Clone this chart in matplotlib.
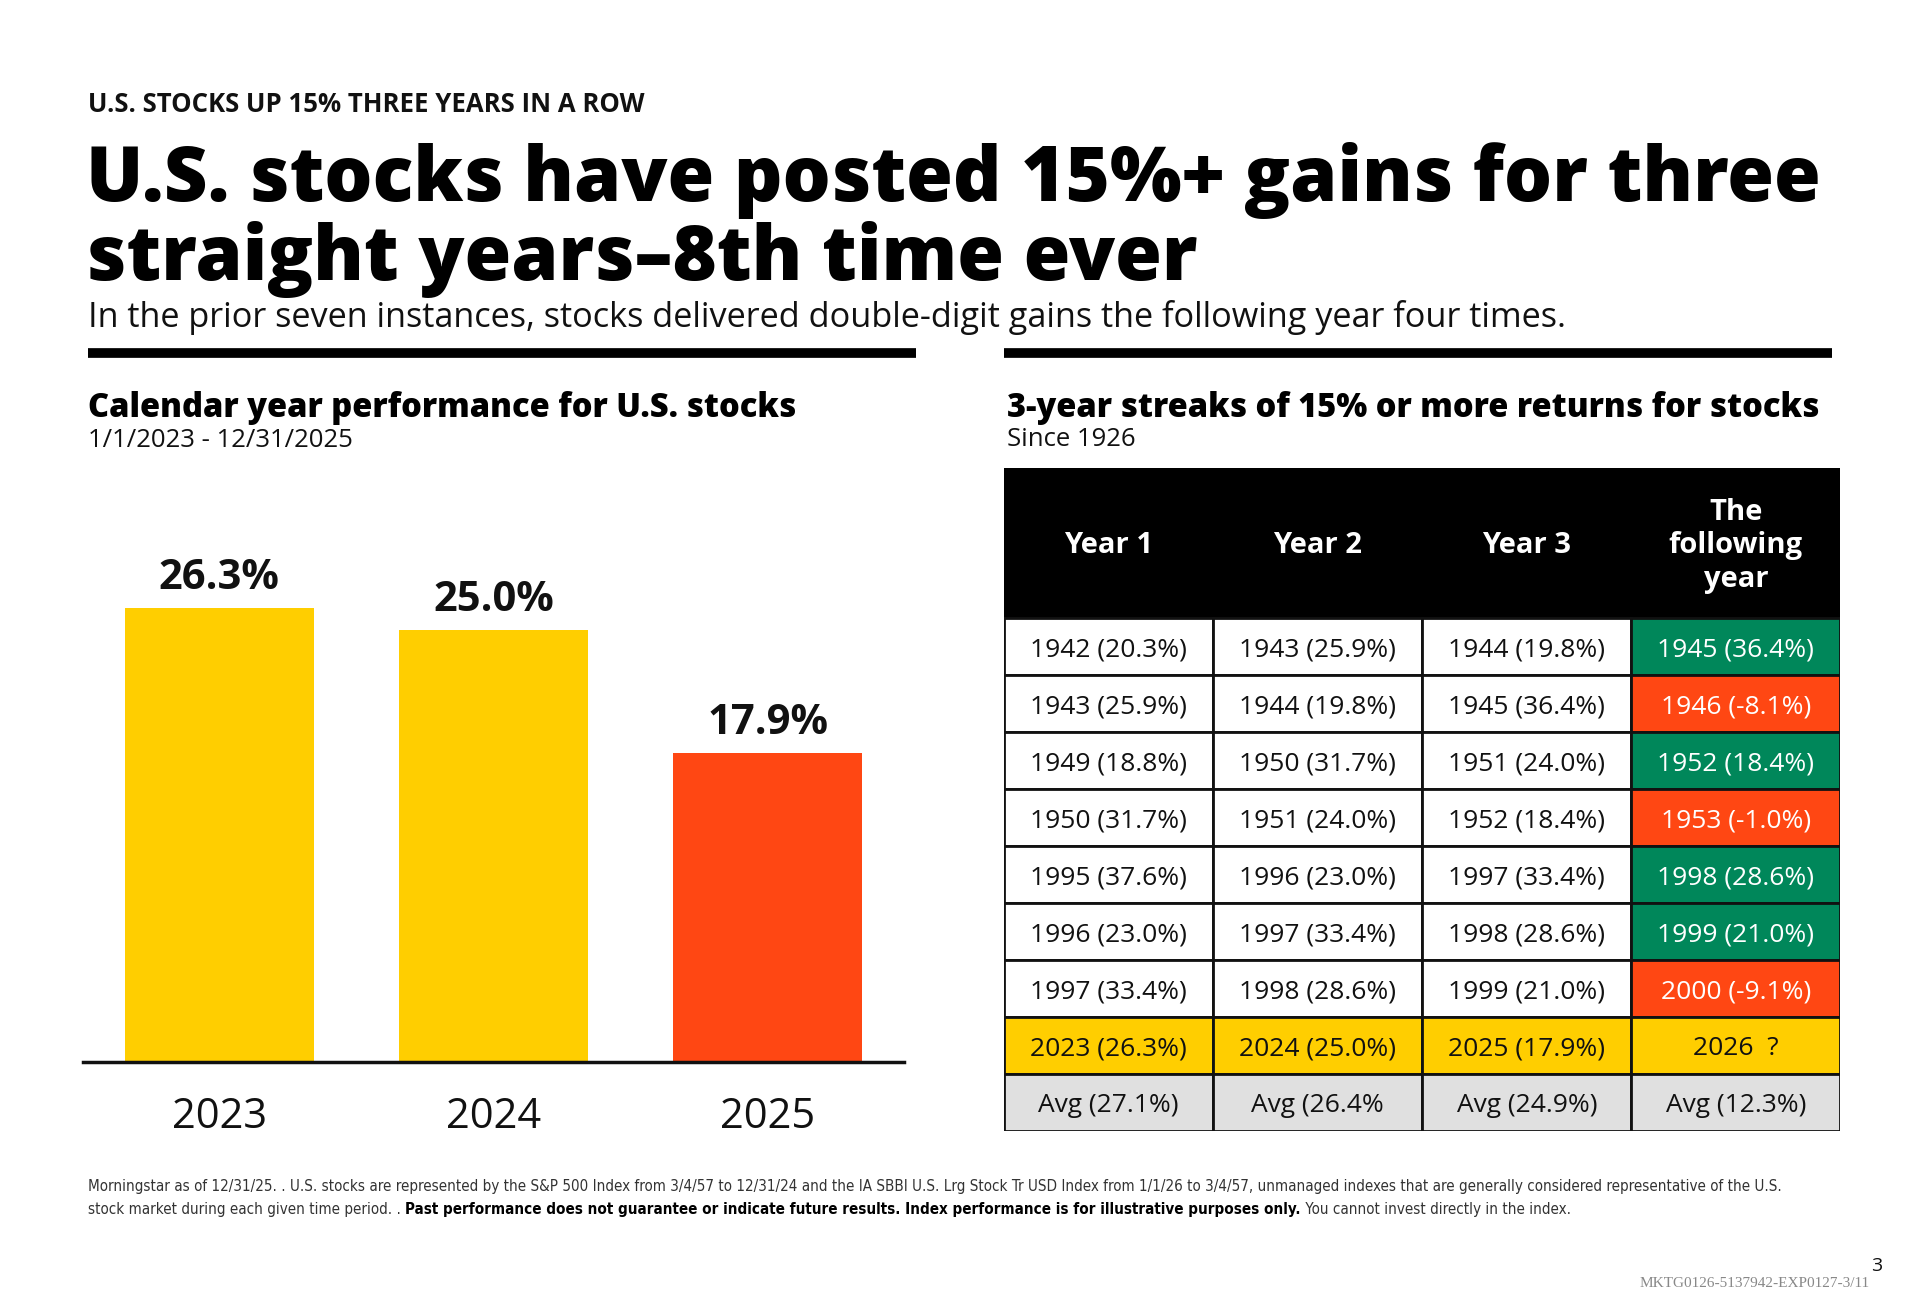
import matplotlib
matplotlib.use("Agg")
import matplotlib.pyplot as plt
from matplotlib.patches import Rectangle

# ---- data ----
bar_years = ["2023", "2024", "2025"]
bar_values = [26.3, 25.0, 17.9]
bar_colors = ["#FFCE00", "#FFCE00", "#FF4713"]

streak_start = [1942, 1943, 1949, 1950, 1995, 1996, 1997, 2023]
returns = {1942: 20.3, 1943: 25.9, 1944: 19.8, 1945: 36.4, 1946: -8.1,
           1949: 18.8, 1950: 31.7, 1951: 24.0, 1952: 18.4, 1953: -1.0,
           1995: 37.6, 1996: 23.0, 1997: 33.4, 1998: 28.6, 1999: 21.0,
           2000: -9.1, 2023: 26.3, 2024: 25.0, 2025: 17.9}
col_headers = ["Year 1", "Year 2", "Year 3", "The\nfollowing\nyear"]
avg_row = ["Avg (27.1%)", "Avg (26.4%", "Avg (24.9%)", "Avg (12.3%)"]
next_year_label = "2026  ?"

YELLOW = "#FFCE00"
RED = "#FF4713"
GREEN = "#00875A"
GREY = "#E0E0E0"
INK = "#111111"

W, H = 1568.0, 1069.0  # layout measured on this grid


def fx(x):
    return x / W


def fy(y):
    return 1 - y / H


plt.rcParams['font.family'] = ['Open Sans', 'DejaVu Sans']
fig = plt.figure(figsize=(19.2, 13.09), dpi=100)
fig.patch.set_facecolor("white")

# ---- headings ----
fig.text(fx(72), fy(85), "U.S. STOCKS UP 15% THREE YEARS IN A ROW", fontsize=18.5,
         fontweight="bold", va="center", ha="left", color=INK)
fig.text(fx(70), fy(147), "U.S. stocks have posted 15%+ gains for three", fontsize=54.5,
         fontweight="heavy", va="center", ha="left", color="black")
fig.text(fx(70), fy(212), "straight years\u20138th time ever", fontsize=54.5,
         fontweight="heavy", va="center", ha="left", color="black")
fig.text(fx(72), fy(259), "In the prior seven instances, stocks delivered double-digit gains the following year four times.",
         fontsize=24.7, va="center", ha="left", color=INK)

# black rules
for x0, x1 in [(72, 748), (820, 1496)]:
    fig.add_artist(plt.Line2D([fx(x0), fx(x1)], [fy(288), fy(288)], color="black",
                              linewidth=7, solid_capstyle="butt"))

fig.text(fx(72), fy(333), "Calendar year performance for U.S. stocks", fontsize=23.5,
         fontweight="heavy", va="center", ha="left", color="black")
fig.text(fx(72), fy(360), "1/1/2023 - 12/31/2025", fontsize=18.5, va="center", ha="left", color=INK)
fig.text(fx(822), fy(333), "3-year streaks of 15% or more returns for stocks", fontsize=23.5,
         fontweight="heavy", va="center", ha="left", color="black")
fig.text(fx(822), fy(359), "Since 1926", fontsize=18.5, va="center", ha="left", color=INK)

# ---- bar chart ----
ax = fig.add_axes([fx(68), fy(867), fx(738) - fx(68), fy(444) - fy(867)])
xpos = list(range(len(bar_years)))
ax.bar(xpos, bar_values, width=0.6875, color=bar_colors)
ax.set_xlim(-0.496, 2.496)
ax.set_ylim(0, 30)
for x, v in zip(xpos, bar_values):
    ax.annotate(f"{v:.1f}%", (x, v), xytext=(0, 24 * 1.225), textcoords="offset pixels",
                ha="center", va="center", fontsize=30, fontweight="bold", color=INK)
ax.set_xticks(xpos)
ax.set_xticklabels(bar_years, fontsize=30, color=INK)
ax.tick_params(axis="x", length=0, pad=25)
ax.set_yticks([])
for s in ["top", "left", "right"]:
    ax.spines[s].set_visible(False)
ax.spines["bottom"].set_linewidth(2.5)
ax.spines["bottom"].set_color(INK)

# ---- table ----
hdr = 2.64
nrows = len(streak_start) + 1
tax = fig.add_axes([fx(820), fy(924), fx(1503) - fx(820), fy(382) - fy(924)])
tax.set_xlim(0, 4)
tax.set_ylim(hdr + nrows, 0)
tax.axis("off")
ty = 0.05  # small downward nudge of cell text

tax.add_patch(Rectangle((0, 0), 4, hdr, facecolor="black", edgecolor="black", lw=2))
for c, h in enumerate(col_headers):
    tax.text(c + 0.5, hdr / 2 + ty, h, ha="center", va="center", color="white",
             fontsize=21, fontweight="bold", linespacing=1.2)

for r, start in enumerate(streak_start):
    y0 = hdr + r
    is_now = start == 2023
    for c in range(4):
        yr = start + c
        if c < 3:
            label = f"{yr} ({returns[yr]:.1f}%)"
            face = YELLOW if is_now else "white"
            tcol = INK
        elif is_now:
            label = next_year_label
            face = YELLOW
            tcol = INK
        else:
            label = f"{yr} ({returns[yr]:.1f}%)"
            face = GREEN if returns[yr] >= 10 else RED
            tcol = "white"
        tax.add_patch(Rectangle((c, y0), 1, 1, facecolor=face, edgecolor=INK, lw=2))
        tax.text(c + 0.5, y0 + 0.5 + ty, label, ha="center", va="center", fontsize=19, color=tcol)

y0 = hdr + len(streak_start)
for c, label in enumerate(avg_row):
    tax.add_patch(Rectangle((c, y0), 1, 1, facecolor=GREY, edgecolor=INK, lw=2))
    tax.text(c + 0.5, y0 + 0.5 + ty, label, ha="center", va="center", fontsize=19, color=INK)

# ---- footnote ----
foot = ['DejaVu Sans']
fs_foot = 10.9
fig.text(fx(72), fy(969),
         "Morningstar as of 12/31/25. . U.S. stocks are represented by the S&P 500 Index from 3/4/57 to 12/31/24 "
         "and the IA SBBI U.S. Lrg Stock Tr USD Index from 1/1/26 to 3/4/57, unmanaged indexes that are generally "
         "considered representative of the U.S.",
         fontsize=fs_foot, family=foot, stretch="condensed", va="center", ha="left", color="#333333")
renderer = fig.canvas.get_renderer()
parts = [("stock market during each given time period. . ", "normal", "#333333"),
         ("Past performance does not guarantee or indicate future results. Index performance is for illustrative purposes only.", "bold", "black"),
         (" You cannot invest directly in the index.", "normal", "#333333")]
xcur = fx(72)
for txt, wt, col in parts:
    t = fig.text(xcur, fy(988), txt, fontsize=fs_foot, family=foot, stretch="condensed",
                 fontweight=wt, va="center", ha="left", color=col)
    bb = t.get_window_extent(renderer=renderer)
    xcur = bb.x1 / fig.bbox.width

fig.text(fx(1537), fy(1034), "3", fontsize=14, ha="right", va="center", color=INK)
fig.text(fx(1527), fy(1048), "MKTG0126-5137942-EXP0127-3/11", fontsize=11,
         family=['Liberation Serif', 'DejaVu Serif'], ha="right", va="center", color="#888888")

fig.savefig("out.png", dpi=100, facecolor="white")
